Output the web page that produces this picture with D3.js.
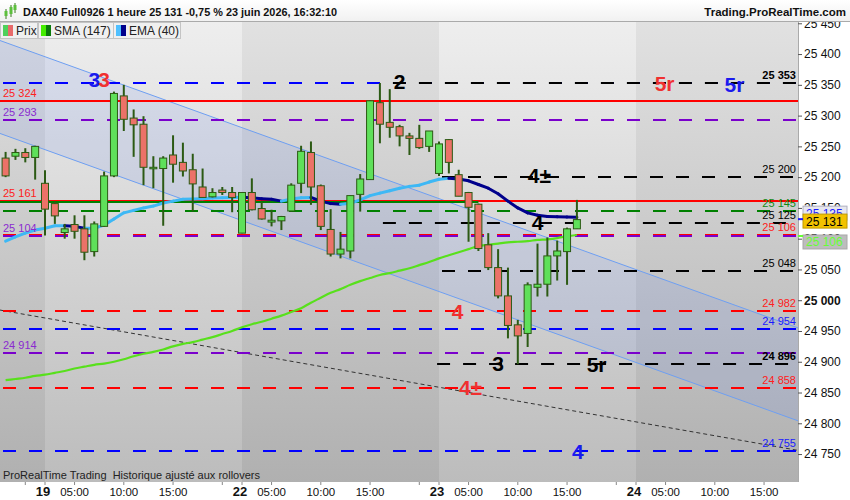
<!DOCTYPE html>
<html><head><meta charset="utf-8">
<script src="https://cdn.jsdelivr.net/npm/d3@7"></script>
<style>body{margin:0;background:#fff;} svg{display:block;font-family:"Liberation Sans",Arial,sans-serif;}</style>
</head><body><svg id="c" width="850" height="500"></svg>
<script>
// ---------- DATA ----------
const firstBarIndex = -4; // bars before day "19" (previous session)
const openV  = [25231,25234,25240,25232,25190,25157,25110,25123,25116,25079,25120,25202,25332,25296,25286,25214,25214,25236,25224,25212,25184,25168,25179,25175,25109,25175,25149,25127,25129,25145,25190,25240,25186,25115,25075,25080,25172,25196,25321,25289,25282,25267,25263,25250,25206,25261,25204,25175,25156,25090,25053,25007,24960,24946,25021,25026,25072,25079,25116];
const highV  = [25241,25246,25247,25251,25211,25160,25124,25138,25138,25128,25209,25339,25350,25310,25299,25234,25234,25268,25256,25238,25214,25182,25184,25184,25175,25198,25160,25147,25137,25190,25251,25258,25188,25148,25111,25170,25205,25325,25353,25343,25285,25272,25285,25275,25258,25262,25212,25176,25157,25109,25083,25053,24968,25029,25092,25102,25097,25118,25163];
const lowV   = [25200,25228,25224,25196,25105,25124,25100,25100,25065,25071,25119,25200,25275,25233,25187,25182,25121,25191,25201,25144,25167,25167,25171,25143,25109,25146,25131,25120,25114,25144,25174,25155,25114,25071,25068,25068,25144,25196,25255,25264,25250,25236,25246,25241,25202,25206,25169,25095,25080,25049,25003,24938,24896,24924,25006,25006,25032,25025,25116];
const closeV = [25202,25240,25232,25250,25148,25137,25116,25112,25078,25124,25202,25336,25294,25285,25216,25216,25231,25221,25210,25189,25167,25175,25175,25167,25175,25147,25132,25130,25136,25187,25242,25184,25120,25075,25083,25170,25197,25324,25286,25281,25267,25263,25248,25275,25254,25224,25169,25151,25084,25053,25007,24959,24942,25025,25026,25072,25080,25116,25131];
const sma147 = [24870,24872,24874,24877,24879,24882,24885,24889,24892,24895,24897,24900,24904,24909,24913,24916,24920,24925,24929,24932,24936,24940,24945,24950,24956,24961,24965,24970,24975,24981,24987,24996,25004,25012,25018,25025,25031,25036,25041,25044,25048,25052,25057,25062,25068,25073,25078,25083,25088,25090,25092,25094,25095,25096,25098,25099,25101,25104,25106];
const ema40  = [25096,25103,25109,25114,25117,25121,25121,25120,25117,25117,25122,25132,25142,25146,25150,25153,25158,25161,25164,25164.5,25165,25166,25166.5,25167,25167.3,25166.5,25165,25164,25161,25164.5,25166.6,25167,25161,25157,25156,25157.5,25163,25170,25174,25178,25182,25185,25187,25192,25196.5,25198,25197,25194,25188,25182,25173,25161,25150,25142,25138,25136,25135.5,25135.2,25135];
const dayLabels = ["19","22","23","24"];
const barsPerDay = 20, sessionFirstHour = 2;
const hourLabels = ["05:00","10:00","15:00"];
const hourTicksNoLabel = ["20:00"];
const priceTicks = [24750,24800,24850,24900,24950,25000,25050,25100,25150,25200,25250,25300,25350,25400,25450];
const lastPrice = 25131, lastEma = 25135, lastSma = 25106;
// horizontal levels: value, kind, first bar index (null = full width)
const levelValues = [25353,25353,25324,25293,25200,25161,25160,25145,25125,25106,25104,25048,24982,24954,24914,24896,24858,24755];
const levelKinds  = ["blueD","blackD","redS","purpleD","blackD","redS","greenS","greenD","blackD","redD","purpleD","blackD","redD","blueD","purpleD","blackD","redD","blueD"];
const levelStart  = [null,34,null,null,40,null,null,null,34,null,null,40,null,null,null,39.5,null,null];
const levelEnd    = [null,null,null,null,null,null,44,null,null,null,null,null,null,null,null,null,null,null];
// value tags (right side / left side)
const rightTagValues = [25353,25200,25145,25125,25106,25048,24982,24954,24896,24858,24755];
const rightTagKinds  = ["blackB","black","green","black","red","black","red","blue","blackB","red","blue"];
const leftTagValues  = [25324,25293,25161,25104,24914];
const leftTagKinds   = ["red","purple","red","purple","purple"];
// wave annotations: text, bar index, value, kind
const waveText  = ["3","3","2","5r","5r","4±","4","4","3","5r","4±","4"];
const waveIdx   = [5.0,6.0,36.0,62.9,70.0,50.2,50.0,41.9,46.0,56.0,43.2,54.1];
const waveVal   = [25358,25358,25356,25353,25350,25203,25127,24982,24898,24896,24859,24755];
const waveKinds = ["blue","red","black","red","blue","black","black","red","black","black","red","blue"];
// channel and trend line, as [bar index, value]
const channelUpper = [[-4.57,25422],[76.45,24955]];
const channelLower = [[-4.57,25271],[76.45,24804]];
const trendLine    = [[-4.57,24984],[76.45,24756]];

// ---------- SETUP ----------
const svg = d3.select("#c");
const P = {l:0, r:798, t:22, b:482};
const x = d3.scaleLinear().domain([0, 60]).range([45, 636]);
const y = d3.scaleLinear().domain([24704.6, 25452.1]).range([P.b, P.t]);
const colors = {red:"#ff0000", blue:"#0000ff", purple:"#7a00cc", black:"#000", green:"#008000",
  redTxt:"#ff2020", blueTxt:"#1a1aff", purpleTxt:"#8a2ad0", greenTxt:"#118811"};
const fmt = v => d3.format(",")(v).replace(",", " ");
const n = openV.length;
const idx = d3.range(n).map(i => i + firstBarIndex);

const defs = svg.append("defs");
function grad(id, c1, c2){
  const g = defs.append("linearGradient").attr("id", id).attr("x1",0).attr("y1",0).attr("x2",0).attr("y2",1);
  g.append("stop").attr("offset","0%").attr("stop-color",c1);
  g.append("stop").attr("offset","100%").attr("stop-color",c2);
}
grad("gl","#eeeeee","#bcbcbc");
grad("gd","#e1e1e1","#b0b0b0");
grad("hdr","#ffffff","#f1f1f1");
defs.append("clipPath").attr("id","clip").append("rect").attr("x",P.l).attr("y",P.t).attr("width",P.r-P.l).attr("height",P.b-P.t);

// background day bands
const dayStarts = dayLabels.map((d,k)=>k*barsPerDay);
const bands = [[x.invert(P.l), 0, "gd"]];
dayStarts.forEach((s,k)=>{ bands.push([s, k+1<dayStarts.length ? dayStarts[k+1] : x.invert(P.r), k%2===0 ? "gl" : "gd"]); });
svg.append("g").selectAll("rect").data(bands).join("rect")
  .attr("x", d=>x(d[0])).attr("y",P.t).attr("width", d=>x(d[1])-x(d[0])).attr("height",P.b-P.t)
  .attr("fill", d=>`url(#${d[2]})`);

const plot = svg.append("g").attr("clip-path","url(#clip)");

// channel
const chPoly = channelUpper.concat(channelLower.slice().reverse());
plot.append("path").attr("d", d3.line().x(d=>x(d[0])).y(d=>y(d[1]))(chPoly)+"Z")
  .attr("fill","rgba(110,140,235,0.16)");
[channelUpper, channelLower].forEach(l=>plot.append("path")
  .attr("d", d3.line().x(d=>x(d[0])).y(d=>y(d[1]))(l)).attr("stroke","#6e9ff2").attr("stroke-width",1).attr("fill","none"));
plot.append("path").attr("d", d3.line().x(d=>x(d[0])).y(d=>y(d[1]))(trendLine))
  .attr("stroke","#333").attr("stroke-width",1).attr("stroke-dasharray","4,3").attr("fill","none");

// levels
const kindStyle = {
  blueD:[colors.blue,"13,13"], blackD:[colors.black,"13,13"], redS:[colors.red,null], purpleD:[colors.purple,"13,13"],
  greenS:[colors.green,null], greenD:[colors.green,"13,13"], redD:[colors.red,"13,13"]
};
levelValues.forEach((v,i)=>{
  const st = kindStyle[levelKinds[i]];
  const x1 = levelStart[i]==null ? P.l : x(levelStart[i]);
  const x2 = levelEnd[i]==null ? P.r : x(levelEnd[i]);
  const ln = plot.append("line").attr("x1",x1).attr("x2",x2).attr("y1",Math.round(y(v))).attr("y2",Math.round(y(v)))
    .attr("stroke",st[0]).attr("stroke-width",2);
  if (st[1]) ln.attr("stroke-dasharray",st[1]).attr("stroke-dashoffset", levelKinds[i]==="blackD" && v===25353 ? 13 : -3);
});

// SMA
plot.append("path").datum(sma147).attr("d", d3.line().x((d,i)=>x(idx[i])).y(d=>y(d)).curve(d3.curveMonotoneX))
  .attr("fill","none").attr("stroke","#58e01c").attr("stroke-width",2.2);

// EMA (colored by slope)
for (let i=0;i<n-1;i++){
  plot.append("line").attr("x1",x(idx[i])).attr("x2",x(idx[i+1])).attr("y1",y(ema40[i])).attr("y2",y(ema40[i+1]))
    .attr("stroke", ema40[i+1] < ema40[i] ? "#00008c" : "#3db8f5").attr("stroke-width",3).attr("stroke-linecap","round");
}

// candles
const cg = plot.append("g");
const bw = 7;
d3.range(n).forEach(i=>{
  const cx = x(idx[i]);
  const up = closeV[i] >= openV[i];
  cg.append("line").attr("x1",cx).attr("x2",cx).attr("y1",y(highV[i])).attr("y2",y(lowV[i]))
    .attr("stroke","#2c5a14").attr("stroke-width",2);
  const top = y(Math.max(openV[i],closeV[i])), bot = y(Math.min(openV[i],closeV[i]));
  cg.append("rect").attr("x",cx-bw/2).attr("y",top).attr("width",bw).attr("height",Math.max(1.5,bot-top))
    .attr("fill", up ? "#5fe05a" : "#ec7268").attr("stroke","#2c5a14").attr("stroke-width",1);
});

// tags
const tagColor = {black:"#000", blackB:"#000", red:colors.redTxt, blue:colors.blueTxt, green:colors.greenTxt, purple:colors.purpleTxt};
rightTagValues.forEach((v,i)=>{
  plot.append("text").attr("x",796).attr("y",y(v)-4).attr("text-anchor","end")
    .attr("font-size",11).attr("font-weight", rightTagKinds[i]==="blackB" ? "bold":"normal")
    .attr("fill",tagColor[rightTagKinds[i]]).text(fmt(v));
});
leftTagValues.forEach((v,i)=>{
  plot.append("text").attr("x",3).attr("y",y(v)-4).attr("font-size",11)
    .attr("fill",tagColor[leftTagKinds[i]]).text(fmt(v));
});
const waveColor = {black:"#000", red:"#f03030", blue:"#1a1aee"};
waveText.forEach((t,i)=>{
  plot.append("text").attr("x",x(waveIdx[i])).attr("y",y(waveVal[i])).attr("dy","0.36em").attr("text-anchor","middle")
    .attr("font-size",21).attr("font-weight","bold")
    .attr("fill",waveColor[waveKinds[i]]).text(t);
});

// bottom-left note
svg.append("text").attr("x",3).attr("y",479).attr("font-size",11).attr("fill","#222")
  .text("ProRealTime Trading\u00a0 Historique ajusté aux rollovers");

// right axis
svg.append("rect").attr("x",P.r).attr("y",P.t).attr("width",850-P.r).attr("height",P.b-P.t).attr("fill","#fff");
svg.append("line").attr("x1",P.r+0.5).attr("x2",P.r+0.5).attr("y1",P.t).attr("y2",P.b).attr("stroke","#aaa");
const ya = svg.append("g").attr("transform",`translate(${P.r},0)`)
  .call(d3.axisRight(y).tickValues(priceTicks).tickSize(4).tickPadding(2).tickFormat(fmt));
ya.select(".domain").remove();
ya.selectAll(".tick line").attr("stroke","#555");
ya.selectAll(".tick text").attr("font-size",12).attr("fill","#111").attr("font-family","Liberation Sans, Arial")
  .attr("font-weight", d=> d===25000 ? "bold" : "normal");

// price boxes
function box(v, dyOff, bg, border, fg){
  const cy = y(v)+dyOff;
  svg.append("rect").attr("x",803).attr("y",cy-7).attr("width",44).attr("height",14).attr("fill",bg).attr("stroke",border);
  svg.append("text").attr("x",806).attr("y",cy+4.5).attr("font-size",12).attr("fill",fg).text(fmt(v));
}
box(lastEma, -4, "#e6e6ee", "#b0b0c0", "#1a1aff");
box(lastPrice, 1.5, "#f2c200", "#c09a00", "#000");
box(lastSma, 7, "#bdbdbd", "#a8a8a8", "#66ff33");
svg.append("line").attr("x1",798).attr("x2",803).attr("y1",y(lastEma)+2).attr("y2",y(lastEma)+2).attr("stroke","#1a1aff").attr("stroke-width",2);
svg.append("line").attr("x1",798).attr("x2",803).attr("y1",y(lastSma)+1).attr("y2",y(lastSma)+1).attr("stroke","#66ff33").attr("stroke-width",2);

// bottom axis
svg.append("rect").attr("x",0).attr("y",P.b).attr("width",850).attr("height",500-P.b).attr("fill","#fff");
const hourIdx = h => +h.slice(0,2) - sessionFirstHour;
const timeTicks = [];
dayLabels.forEach((d,k)=>{
  const s = k*barsPerDay;
  timeTicks.push({i:s, t:d, day:true});
  hourLabels.forEach(h=>timeTicks.push({i:s+hourIdx(h), t:h, day:false}));
  hourTicksNoLabel.forEach(h=>timeTicks.push({i:s+hourIdx(h), t:"", day:false}));
});
timeTicks.push({i:-barsPerDay+hourIdx("20:00"), t:"", day:false});
const tg = svg.append("g");
timeTicks.filter(d=>x(d.i)>=0 && x(d.i)<=P.r).forEach(d=>{
  tg.append("line").attr("x1",x(d.i)).attr("x2",x(d.i)).attr("y1",P.b).attr("y2",P.b+3).attr("stroke","#888");
  tg.append("text").attr("x",x(d.i) - (d.day?2:0)).attr("y",496).attr("text-anchor","middle")
    .attr("font-size", d.day ? 13 : 11.5).attr("font-weight", d.day ? "bold":"normal").attr("fill","#111").text(d.t);
});

// header
svg.append("rect").attr("x",0).attr("y",0).attr("width",850).attr("height",21).attr("fill","url(#hdr)");
svg.append("line").attr("x1",0).attr("x2",850).attr("y1",21.5).attr("y2",21.5).attr("stroke","#aaa");
// header icon (mini candles)
[[6,9,16,"#5cbf3c"],[11,5,14,"#5cbf3c"],[15,3,10,"#5cbf3c"]].forEach(c=>{
  svg.append("line").attr("x1",c[0]).attr("x2",c[0]).attr("y1",c[1]).attr("y2",c[2]+3).attr("stroke","#3a7a20");
  svg.append("rect").attr("x",c[0]-1.5).attr("y",c[1]+2).attr("width",3).attr("height",c[2]-c[1]-2).attr("fill",c[3]);
});
svg.append("text").attr("x",23).attr("y",16).attr("font-size",11).attr("font-weight","bold").attr("fill","#111")
  .attr("textLength",314).attr("lengthAdjust","spacingAndGlyphs")
  .text("DAX40 Full0926 1 heure 25 131 -0,75 % 23 juin 2026, 16:32:10");
svg.append("text").attr("x",846).attr("y",16).attr("text-anchor","end").attr("font-size",11.5).attr("font-weight","bold").attr("fill","#111")
  .text("Trading.ProRealTime.com");

// legend
const legend = [["Prix","#4ed05a","#e86a6a",0,37],["SMA (147)","#44ee00","#0a7a0a",38,75],["EMA (40)","#4fc0ff","#00008c",113,67]];
legend.forEach(l=>{
  svg.append("rect").attr("x",l[3]+0.5).attr("y",22.5).attr("width",l[4]).attr("height",16).attr("fill","#f0f0f0").attr("stroke","#c4c4c4");
  svg.append("rect").attr("x",l[3]+3).attr("y",25).attr("width",5).attr("height",11).attr("fill",l[1]);
  svg.append("rect").attr("x",l[3]+8).attr("y",25).attr("width",5).attr("height",11).attr("fill",l[2]);
  svg.append("text").attr("x",l[3]+16).attr("y",35).attr("font-size",12).attr("fill","#222").text(l[0]);
});
</script></body></html>
